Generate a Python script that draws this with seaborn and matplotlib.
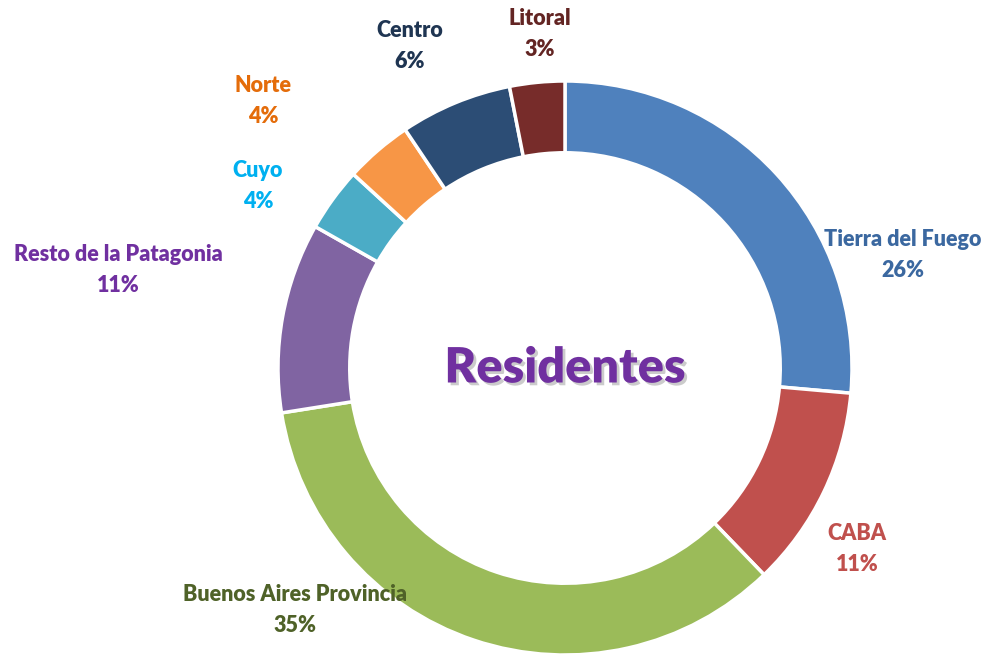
import numpy as np
import seaborn as sns
import matplotlib.pyplot as plt
import matplotlib.patheffects as pe

sns.set_style('white')
plt.rcParams['font.family'] = ['Lato', 'DejaVu Sans']

# data (percent of residents by region of origin)
regions = ['Tierra del Fuego', 'CABA', 'Buenos Aires Provincia', 'Resto de la Patagonia',
           'Cuyo', 'Norte', 'Centro', 'Litoral']
shares = [26.4, 11.4, 34.7, 10.7, 3.6, 3.8, 6.3, 3.1]
wedge_colors = ['#4F81BD', '#C0504D', '#9BBB59', '#8064A2',
                '#4BACC6', '#F79646', '#2C4D75', '#772C2A']
label_colors = ['#3B68A0', '#C0504D', '#4F6228', '#7030A0',
                '#00B0F0', '#E46C0A', '#1F3552', '#632523']

# label centres in pixels of the 990x654 picture
label_px = [(903, 255), (857, 549), (295, 610), (118, 270),
            (258, 186), (263, 101), (410, 46), (540, 34)]

cx, cy, R = 565, 368, 287  # pie centre and radius in px
W, H = 990, 654

fig = plt.figure(figsize=(9.9, 6.54), dpi=100)
ax = fig.add_axes([0, 0, 1, 1])
ax.pie(shares, colors=wedge_colors, startangle=90, counterclock=False,
       radius=1, wedgeprops=dict(width=0.25, edgecolor='white', linewidth=2.5))
ax.set_xlim(-cx / R, (W - cx) / R)
ax.set_ylim((cy - H) / R, cy / R)
ax.set_aspect('equal')
ax.axis('off')

for name, pct, col, (px, py) in zip(regions, shares, label_colors, label_px):
    ax.text((px - cx) / R, (cy - py) / R, f'{name}\n{pct:.0f}%', color=col,
            ha='center', va='center', fontsize=15.5, fontweight='heavy',
            linespacing=1.6)

ax.text(0, 0, 'Residentes', color='#7030A0', ha='center', va='center',
        fontsize=35, fontweight='heavy',
        path_effects=[pe.withSimplePatchShadow(offset=(2, -2), shadow_rgbFace='#999999', alpha=0.5)])

fig.savefig('out.png', dpi=100)
